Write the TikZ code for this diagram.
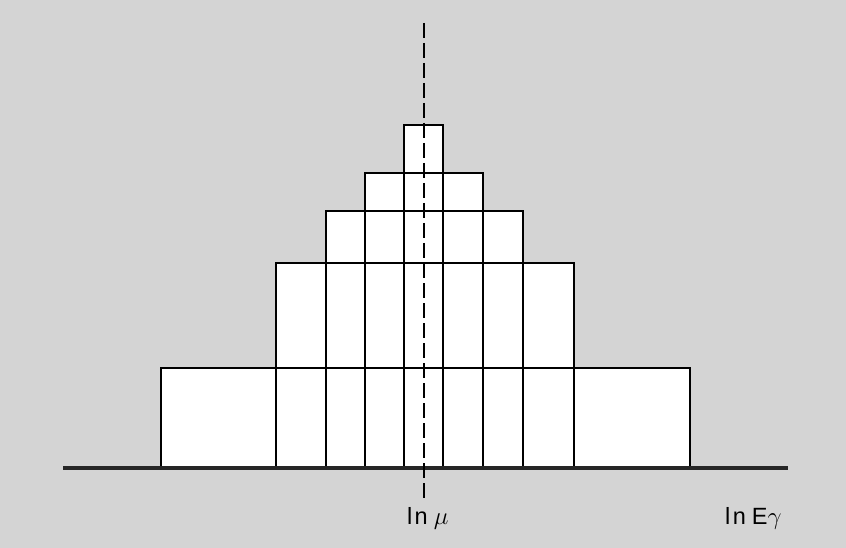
\documentclass[tikz,border=0pt]{standalone}
\usepackage{fontspec}
\setmainfont{Liberation Sans}
\definecolor{bgcol}{gray}{0.83}
\begin{document}
\begin{tikzpicture}[x=1pt,y=-1pt,
  box/.style={draw=black,fill=white,line width=2.8pt},
  axisline/.style={draw=black!85,line width=4.5pt},
  meanline/.style={draw=black,line width=2.8pt,dash pattern=on 15pt off 5pt},
  lbl/.style={inner sep=0pt,font=\fontsize{23.5}{28}\selectfont\addfontfeature{LetterSpace=10}}]
\fill[bgcol] (0,0) rectangle (846,548);
\useasboundingbox (0,0) rectangle (846,548);
% row 1
\foreach \a/\b in {161/276,276/326,326/365,365/404,404/443,443/483,483/523,523/574,574/690}
  \draw[box] (\a,368) rectangle (\b,467);
% row 2
\foreach \a/\b in {276/326,326/365,365/404,404/443,443/483,483/523,523/574}
  \draw[box] (\a,263) rectangle (\b,368);
% row 3
\foreach \a/\b in {326/365,365/404,404/443,443/483,483/523}
  \draw[box] (\a,211) rectangle (\b,263);
% row 4
\foreach \a/\b in {365/404,404/443,443/483}
  \draw[box] (\a,173) rectangle (\b,211);
% row 5
\draw[box] (404,125) rectangle (443,173);
% axis
\coordinate (axL) at (63,468);
\coordinate (axR) at (788,468);
\draw[axisline] (axL) -- (axR);
% mean line
\coordinate (mT) at (424,23);
\coordinate (mB) at (424,498);
\draw[meanline] (mT) -- (mB);
% labels
\node[lbl,anchor=base west] (mu) at (407,524) {ln\hspace{6pt}$\mu$};
\node[lbl,anchor=base west] (eg) at (725,524) {ln\hspace{6pt}E$\gamma$};
\end{tikzpicture}
\end{document}
